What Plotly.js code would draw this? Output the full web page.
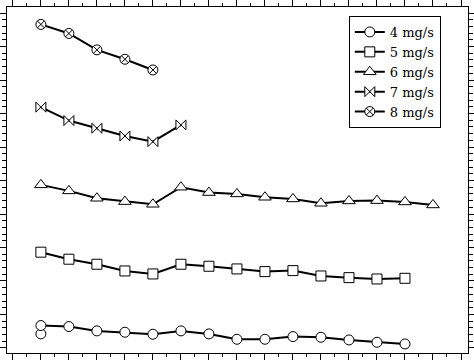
<!DOCTYPE html>
<html>
<head>
<meta charset="utf-8">
<script src="https://cdn.plot.ly/plotly-3.0.1.min.js"></script>
<style>html,body{margin:0;padding:0;background:#fff;}#chart{width:474px;height:362px;}</style>
</head>
<body>
<div id="chart"></div>
<script>
// Sample positions (index along the horizontal axis)
var xIdx = [1,2,3,4,5,6,7,8,9,10,11,12,13,14,15];

// Series values (arbitrary vertical units)
var y4 = [0.67,0.64,0.51,0.47,0.41,0.51,0.42,0.26,0.26,0.34,0.32,0.24,0.17,0.12];
var y4Extra = [0.42];
var x4Extra = [1];
var y5 = [2.86,2.65,2.50,2.30,2.21,2.50,2.44,2.36,2.28,2.31,2.15,2.10,2.06,2.08];
var y6 = [4.87,4.69,4.47,4.37,4.29,4.80,4.64,4.60,4.50,4.45,4.32,4.39,4.40,4.36,4.27];
var y7 = [7.19,6.79,6.56,6.33,6.16,6.66];
var y8 = [9.66,9.39,8.90,8.62,8.30];

var names = ['4 mg/s','5 mg/s','6 mg/s','7 mg/s','8 mg/s'];
var symbols = ['circle','square','triangle-up','bowtie','circle-x'];
var series = [y4,y5,y6,y7,y8];

var traces = series.map(function(ys,i){
  return {
    x: xIdx.slice(0, ys.length),
    y: ys,
    name: names[i],
    type: 'scatter',
    mode: 'lines+markers',
    line: {color:'#000', width:2},
    marker: {symbol: symbols[i], size: (i===2?11:10), color:'#fff', line:{color:'#000', width:1}}
  };
});
traces.push({
  x: x4Extra, y: y4Extra, type:'scatter', mode:'markers', showlegend:false,
  marker:{symbol:'circle', size:10, color:'#fff', line:{color:'#000', width:1}}
});
// draw the extra circle beneath the main 4 mg/s series
traces = [traces[5]].concat(traces.slice(0,5));

var axisCommon = {
  showgrid:false, zeroline:false, showline:true, linecolor:'#000', linewidth:1.3,
  mirror:'allticks', ticks:'outside', tickcolor:'#000', tickwidth:1,
  showticklabels:false
};

var layout = {
  width:474, height:362,
  margin:{l:7, r:6, t:7, b:9, pad:0},
  paper_bgcolor:'#fff', plot_bgcolor:'#fff',
  showlegend:true,
  font:{family:'DejaVu Serif', color:'#000'},
  xaxis: Object.assign({}, axisCommon, {
    range:[-0.21, 16.25], tick0:1, dtick:1, ticklen:6,
    minor:{dtick:0.5, tick0:1, ticks:'outside', ticklen:3, tickcolor:'#000', showgrid:false}
  }),
  yaxis: Object.assign({}, axisCommon, {
    range:[-0.15, 10.18], tick0:0, dtick:1, ticklen:7,
    minor:{dtick:0.2, tick0:0, ticks:'outside', ticklen:4, tickcolor:'#000', showgrid:false}
  }),
  legend:{
    x:0.941, xanchor:'right', y:0.974, yanchor:'top',
    bgcolor:'#fff', bordercolor:'#000', borderwidth:1,
    font:{family:'DejaVu Serif', size:13, color:'#000'},
    tracegroupgap:0
  }
};

Plotly.newPlot('chart', traces, layout, {staticPlot:true, displayModeBar:false});
</script>
</body>
</html>
